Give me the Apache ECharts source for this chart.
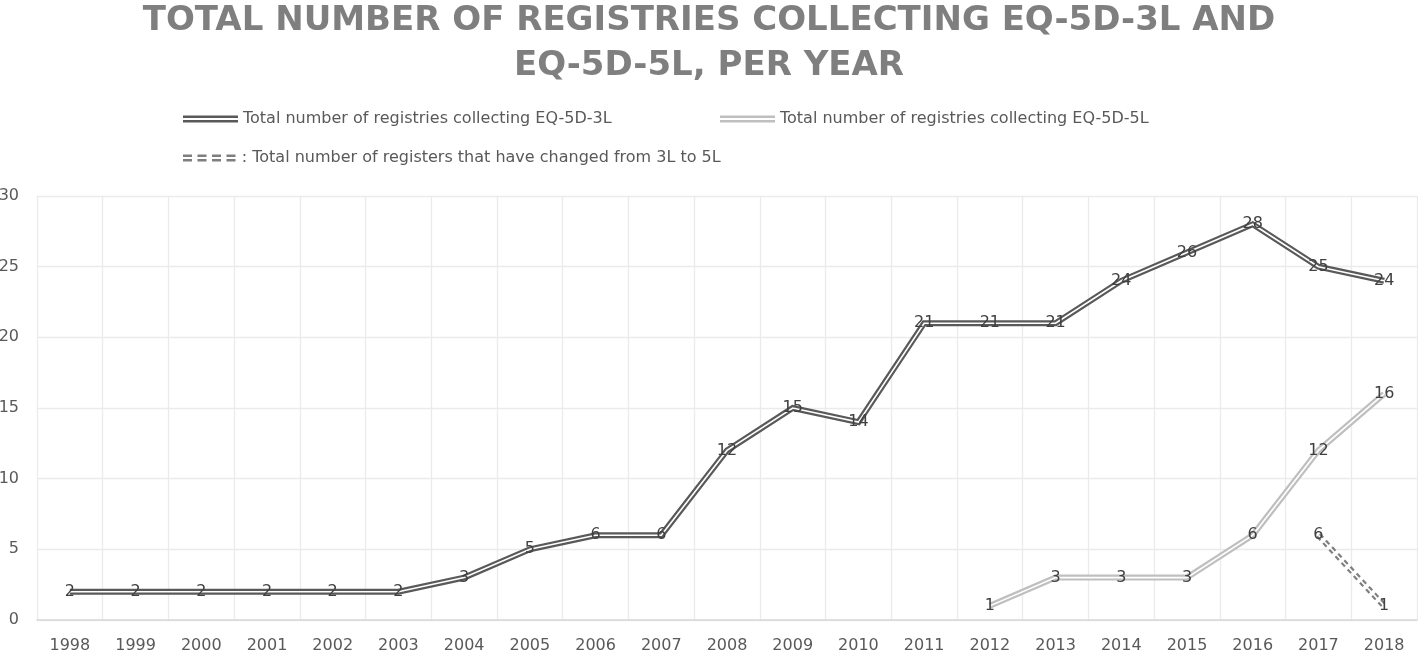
<!DOCTYPE html>
<html><head><meta charset="utf-8">
<script src="https://cdn.jsdelivr.net/npm/echarts@6/dist/echarts.min.js"></script>
<style>html,body{margin:0;padding:0;background:#fff}#c{width:1418px;height:652px}</style>
</head><body><div id="c"></div>
<script>
const years = ['1998','1999','2000','2001','2002','2003','2004','2005','2006','2007','2008','2009','2010','2011','2012','2013','2014','2015','2016','2017','2018'];
const eq3L = [2,2,2,2,2,2,3,5,6,6,12,15,14,21,21,21,24,26,28,25,24];
const eq5L = [null,null,null,null,null,null,null,null,null,null,null,null,null,null,1,3,3,3,6,12,16];
const changed = [null,null,null,null,null,null,null,null,null,null,null,null,null,null,null,null,null,null,null,6,1];
const yTicks = [0,5,10,15,20,25,30];

const N3 = 'Total number of registries collecting EQ-5D-3L';
const N5 = 'Total number of registries collecting EQ-5D-5L';
const NC = 'Total number of registers that have changed from 3L to 5L';
const FONT = 'DejaVu Sans';
const dbl = 'path://M0,0H55V2.6H0Z M0,4.4H55V7H0Z';
let dash = 'path://';
for (let i = 0; i < 4; i++) { const x = i * 14.5; dash += `M${x},0H${x+9}V2.6H${x}Z M${x},4.4H${x+9}V7H${x}Z `; }

const C3 = '#595959', C5 = '#bfbfbf', CC = '#7f7f7f';
function outer(name, data, color, type) {
  return { name, type: 'line', data, symbol: 'none', silent: true, z: 2,
    lineStyle: { color, width: 6, type: type || 'solid', cap: 'butt', join: 'miter' }, itemStyle: { color } };
}
function inner(data) {
  return { name: '_', type: 'line', data, symbol: 'circle', symbolSize: 1, showSymbol: true, silent: true, z: 3,
    itemStyle: { color: 'rgba(255,255,255,0)', borderWidth: 0 },
    lineStyle: { color: '#fff', width: 1.6, join: 'miter' },
    label: { show: true, position: 'inside', color: '#404040', fontSize: 16, fontFamily: FONT } };
}
const ch = echarts.init(document.getElementById('c'));
const legendBase = { padding: 0, itemWidth: 55, itemHeight: 7, textStyle: { color: '#595959', fontSize: 16, fontFamily: FONT }, selectedMode: false, itemGap: 20 };
ch.setOption({
  animation: false,
  title: { text: 'TOTAL NUMBER OF REGISTRIES COLLECTING EQ-5D-3L AND\nEQ-5D-5L, PER YEAR', left: 'center', top: -6,
    textStyle: { color: '#7f7f7f', fontSize: 34, fontWeight: 'bold', fontFamily: FONT, lineHeight: 45 } },
  legend: [
    Object.assign({}, legendBase, { left: 183, top: 111, data: [{ name: N3, icon: dbl }] }),
    Object.assign({}, legendBase, { left: 720, top: 111, data: [{ name: N5, icon: dbl }] }),
    Object.assign({}, legendBase, { left: 183, top: 150, data: [{ name: NC, icon: dash }], formatter: n => ': ' + n })
  ],
  grid: { left: 37, right: 1, top: 196, bottom: 32, outerBoundsMode: 'none', containLabel: false },
  xAxis: { type: 'category', data: years, boundaryGap: true,
    axisLine: { lineStyle: { color: '#d9d9d9', width: 1.5 } }, axisTick: { show: false },
    axisLabel: { color: '#595959', fontSize: 16, fontFamily: FONT, margin: 18, interval: 0 },
    splitLine: { show: true, lineStyle: { color: '#ebebeb', width: 1.3 } } },
  yAxis: { type: 'value', min: yTicks[0], max: yTicks[yTicks.length - 1], interval: 5,
    axisLine: { show: false }, axisTick: { show: false },
    axisLabel: { color: '#595959', fontSize: 16, fontFamily: FONT, margin: 18 },
    splitLine: { lineStyle: { color: '#ebebeb', width: 1.3 } } },
  series: [
    outer(N3, eq3L, C3), inner(eq3L),
    outer(N5, eq5L, C5), inner(eq5L),
    outer(NC, changed, CC, [5, 4]), inner(changed)
  ]
});
</script></body></html>
